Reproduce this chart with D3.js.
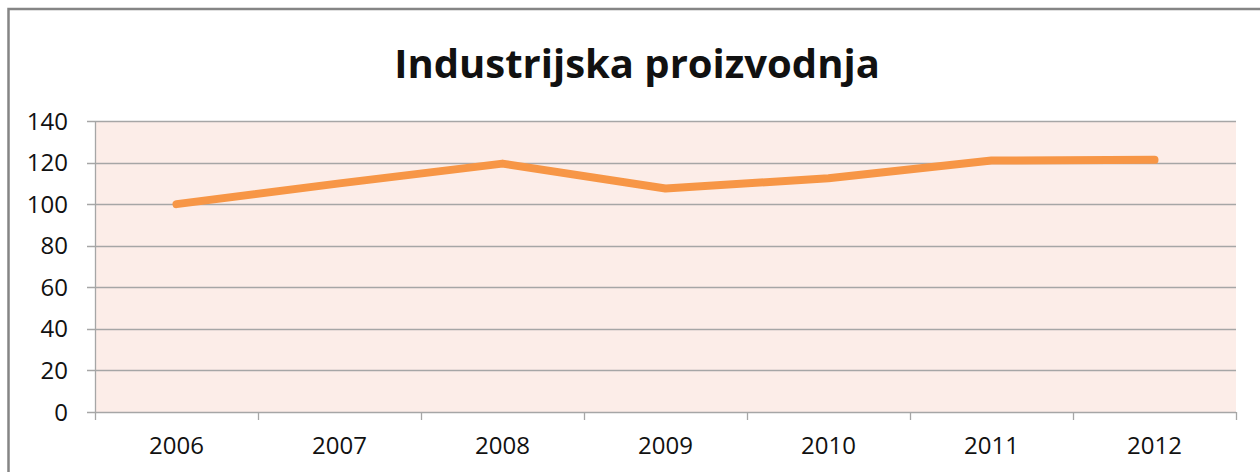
<!DOCTYPE html>
<html>
<head>
<meta charset="utf-8">
<script src="https://cdn.jsdelivr.net/npm/d3@7"></script>
<style>
  body { margin: 0; background: #fff; }
  svg text { font-family: "Open Sans", sans-serif; fill: #111; }
</style>
</head>
<body>
<div id="viz"></div>
<script>
// chart data
const years = ["2006", "2007", "2008", "2009", "2010", "2011", "2012"];
const values = [100, 110, 119.5, 107.5, 112.5, 121, 121.3];
const yTicks = [0, 20, 40, 60, 80, 100, 120, 140];
const title = "Industrijska proizvodnja";

const w = 1260, h = 472;
const plotL = 95, plotR = 1236, plotT = 121, plotB = 412;

const svg = d3.select("#viz").append("svg")
  .attr("width", w)
  .attr("height", h);

// outer chart frame
svg.append("rect")
  .attr("x", 8.5).attr("y", 9)
  .attr("width", w + 20).attr("height", h + 20)
  .attr("fill", "none")
  .attr("stroke", "#858585")
  .attr("stroke-width", 2.5);

const x = d3.scaleBand().domain(years).range([plotL, plotR]);
const y = d3.scaleLinear().domain([0, 140]).range([plotB, plotT]);

// plot area background
svg.append("rect")
  .attr("x", plotL).attr("y", plotT)
  .attr("width", plotR - plotL).attr("height", plotB - plotT)
  .attr("fill", "#fcede8");

// gridlines + y ticks
svg.append("g")
  .selectAll("line")
  .data(yTicks)
  .enter().append("line")
  .attr("x1", plotL - 8).attr("x2", plotR)
  .attr("y1", d => Math.round(y(d)) + 0.5)
  .attr("y2", d => Math.round(y(d)) + 0.5)
  .attr("stroke", "#a6a6a6")
  .attr("stroke-width", 1.3);

svg.append("g")
  .selectAll("text")
  .data(yTicks)
  .enter().append("text")
  .attr("x", 68)
  .attr("y", d => y(d))
  .attr("dy", "0.36em")
  .attr("text-anchor", "end")
  .style("font-size", "24px")
  .text(d => d);

// y axis line
svg.append("line")
  .attr("x1", plotL + 0.5).attr("x2", plotL + 0.5)
  .attr("y1", plotT).attr("y2", plotB)
  .attr("stroke", "#a6a6a6").attr("stroke-width", 1.3);

// x ticks at band edges
const edges = years.map(d => x(d)).concat([plotR]);
svg.append("g")
  .selectAll("line")
  .data(edges)
  .enter().append("line")
  .attr("x1", d => Math.round(d) + 0.5).attr("x2", d => Math.round(d) + 0.5)
  .attr("y1", plotB).attr("y2", plotB + 8)
  .attr("stroke", "#a6a6a6").attr("stroke-width", 1.3);

svg.append("g")
  .selectAll("text")
  .data(years)
  .enter().append("text")
  .attr("x", d => x(d) + x.bandwidth() / 2)
  .attr("y", 445)
  .attr("dy", "0.36em")
  .attr("text-anchor", "middle")
  .style("font-size", "24px")
  .text(d => d);

// the line
const line = d3.line()
  .x((d, i) => x(years[i]) + x.bandwidth() / 2)
  .y(d => y(d));

svg.append("path")
  .datum(values)
  .attr("d", line)
  .attr("fill", "none")
  .attr("stroke", "#f79646")
  .attr("stroke-width", 8)
  .attr("stroke-linecap", "round")
  .attr("stroke-linejoin", "round");

// title
svg.append("text")
  .attr("x", 637)
  .attr("y", 78)
  .attr("text-anchor", "middle")
  .style("font-size", "40px")
  .style("font-weight", "bold")
  .text(title);
</script>
</body>
</html>
